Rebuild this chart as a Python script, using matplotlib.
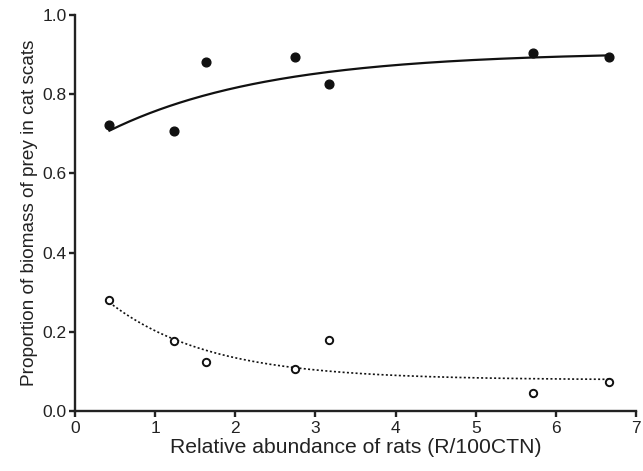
import numpy as np
import matplotlib
matplotlib.use("Agg")
import matplotlib.pyplot as plt

plt.rcParams['font.family'] = ['Liberation Sans', 'DejaVu Sans']

# relative abundance of rats (R/100CTN)
rats = [0.43, 1.24, 1.63, 2.75, 3.17, 5.72, 6.66]
# proportion of biomass in cat scats
rat_biomass = [0.721, 0.707, 0.882, 0.893, 0.826, 0.903, 0.893]
other_biomass = [0.281, 0.176, 0.124, 0.107, 0.180, 0.045, 0.074]

# fitted curves y = a + b*exp(-c*x), parameters
fit_rat = (0.9068, -0.2466, 0.5)
fit_other = (0.0787, 0.2755, 0.8)

def fit_curve(x, p):
    a, b, c = p
    return a + b * np.exp(-c * x)

xs = np.linspace(min(rats), max(rats), 200)

fig = plt.figure(figsize=(6.43, 4.71), dpi=100)
ax = fig.add_axes([0.1166, 0.1274, 0.8725, 0.8408])

ax.plot(xs, fit_curve(xs, fit_rat), color='#111111', lw=1.6)
ax.plot(xs, fit_curve(xs, fit_other), color='#111111', lw=1.2, ls=(0, (1.2, 1.4)))
ax.plot(rats, rat_biomass, 'o', color='#111111', ms=6.3, clip_on=False)
ax.plot(rats, other_biomass, 'o', mfc='white', mec='#111111', mew=1.4, ms=5.3, clip_on=False)

ax.set_xlim(0, 7)
ax.set_ylim(0, 1.0)
ax.set_xticks(range(0, 8))
ax.set_yticks([0, 0.2, 0.4, 0.6, 0.8, 1.0])
ax.set_yticklabels(['0.0', '0.2', '0.4', '0.6', '0.8', '1.0'])

for s in ['top', 'right']:
    ax.spines[s].set_visible(False)
for s in ['left', 'bottom']:
    ax.spines[s].set_linewidth(1.7)
    ax.spines[s].set_color('#222222')
ax.tick_params(direction='out', length=4, width=1.7, color='#222222',
               labelsize=12.5, labelcolor='#222222', pad=2)
ax.tick_params(axis='x', pad=3)

ax.set_xlabel('Relative abundance of rats (R/100CTN)', fontsize=15.2,
              color='#222222', labelpad=2)
ax.set_ylabel('Proportion of biomass of prey in cat scats', fontsize=13.7,
              color='#222222', labelpad=3)

fig.savefig('out.png', dpi=100)
